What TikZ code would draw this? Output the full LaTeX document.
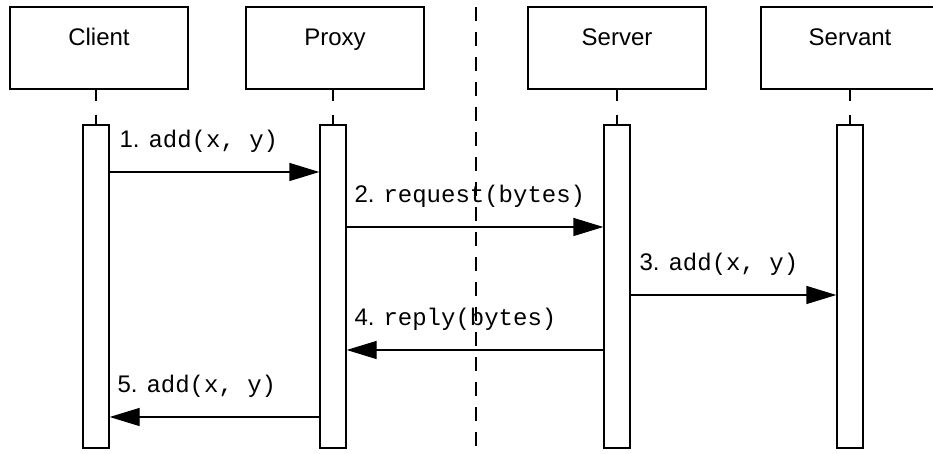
\documentclass[tikz,border=0pt]{standalone}
\usepackage{fontspec}
\setmainfont{Liberation Sans}
\setmonofont{Liberation Mono}
\usetikzlibrary{positioning,calc,arrows.meta}

\begin{document}
\begin{tikzpicture}[
    x=1pt, y=1pt,
    font=\fontsize{24}{28}\selectfont,
    line width=1.3pt,
    objbox/.style={draw, rectangle, inner sep=0pt, minimum width=178pt,
        text height=39pt, text depth=43pt},
    actbar/.style={draw, fill=white, rectangle, inner sep=0pt,
        minimum width=26pt, minimum height=323pt},
    lifeline/.style={dash pattern=on 11pt off 14pt},
    divider/.style={line width=1.6pt, dash pattern=on 14pt off 11pt},
    msg/.style={-{Triangle[length=30pt,width=18pt]}},
    msglabel/.style={anchor=base west}
]

% ========= Frame =========
\useasboundingbox (0,0) rectangle (933,454);
\clip (0,0) rectangle (933,454);

% ========= Objects =========
\node[objbox] (client)  at (99,406)  {Client};
\node[objbox] (proxy)   at (335,406) {Proxy};
\node[objbox] (server)  at (617,406) {Server};
\node[objbox] (servant) at (850,406) {Servant};

% ========= Activation bars =========
\node[actbar] (client-bar)  at (96,167.5)  {};
\node[actbar] (proxy-bar)   at (333,167.5) {};
\node[actbar] (server-bar)  at (617,167.5) {};
\node[actbar] (servant-bar) at (850,167.5) {};

% ========= Lifelines =========
\foreach \obj in {client,proxy,server,servant}
{
    \draw[lifeline] (\obj-bar.north |- \obj.south) -- (\obj-bar.north);
}

% ========= Process boundary =========
\coordinate (divtop) at (476,447);
\coordinate (divbot) at (476,0);
\draw[divider] (divtop) -- (divbot);

% ========= Messages =========
\coordinate (m1) at (0,282);
\coordinate (m2) at (0,227);
\coordinate (m3) at (0,159);
\coordinate (m4) at (0,104);
\coordinate (m5) at (0,37);

\draw[msg] (client-bar.east |- m1) -- (proxy-bar.west |- m1);
\draw[msg] (proxy-bar.east |- m2) -- (server-bar.west |- m2);
\draw[msg] (server-bar.east |- m3) -- (servant-bar.west |- m3);
\draw[msg] (server-bar.west |- m4) -- (proxy-bar.east |- m4);
\draw[msg] (proxy-bar.west |- m5) -- (client-bar.east |- m5);

% labels sit on the left end of each message
\node[msglabel] (lab1) at ($(client-bar.east |- m1)+(6,24)$) {1. \texttt{add(x, y)}};
\node[msglabel] (lab2) at ($(proxy-bar.east |- m2)+(4,24)$) {2. \texttt{request(bytes)}};
\node[msglabel] (lab3) at ($(server-bar.east |- m3)+(5,24)$) {3. \texttt{add(x, y)}};
\node[msglabel] (lab4) at ($(proxy-bar.east |- m4)+(4,24)$) {4. \texttt{reply(bytes)}};
\node[msglabel] (lab5) at ($(client-bar.east |- m5)+(4,24)$) {5. \texttt{add(x, y)}};

\end{tikzpicture}
\end{document}
